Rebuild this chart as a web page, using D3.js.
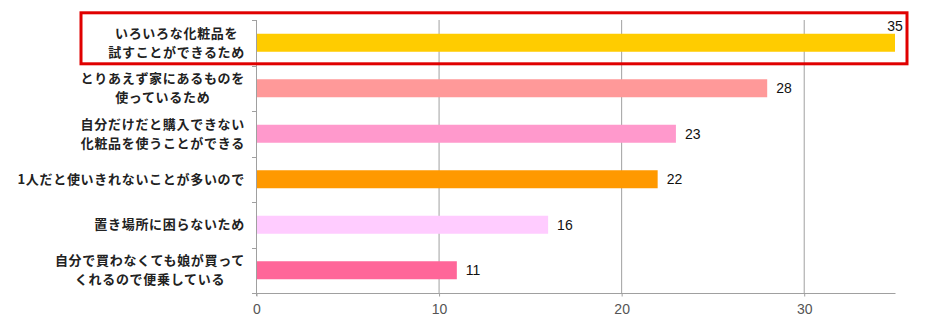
<!DOCTYPE html>
<html><head><meta charset="utf-8">
<script src="https://cdn.jsdelivr.net/npm/d3@7"></script>
<style>body{margin:0;background:#fff}</style>
</head><body>
<svg id="c" width="925" height="330"></svg>
<script>
const categories = [
  ["いろいろな化粧品を","試すことができるため"],
  ["とりあえず家にあるものを","使っているため"],
  ["自分だけだと購入できない","化粧品を使うことができる"],
  ["1人だと使いきれないことが多いので"],
  ["置き場所に困らないため"],
  ["自分で買わなくても娘が買って","くれるので便乗している"]
];
const values = [35, 28, 23, 22, 16, 11];
const colors = ["#ffcc00","#ff9999","#ff99cc","#ff9900","#ffccff","#ff6699"];
const xTicks = [0, 10, 20, 30];

const svg = d3.select("#c");
const L = 256, R = 895, T = 20, B = 293;
const x = d3.scaleLinear().domain([0, 35]).range([L, R]);
const yb = d3.scaleBand().domain(d3.range(categories.length)).range([T, B]);

// gridlines
svg.append("g").selectAll("line").data(xTicks.filter(d => d > 0)).join("line")
  .attr("x1", d => x(d) + 0.5).attr("x2", d => x(d) + 0.5)
  .attr("y1", T).attr("y2", B).attr("stroke", "#a0a0a0").attr("stroke-width", 1);

// bars
svg.append("g").selectAll("rect").data(values).join("rect")
  .attr("x", x(0) + 1).attr("y", (d, i) => yb(i) + yb.bandwidth() / 2 - 9)
  .attr("width", d => x(d) - x(0) - 1).attr("height", 18)
  .attr("fill", (d, i) => colors[i]);

// y axis line and ticks
const ya = svg.append("g").attr("stroke", "#a0a0a0").attr("stroke-width", 1);
ya.append("line").attr("x1", L + 0.5).attr("x2", L + 0.5).attr("y1", T).attr("y2", B + 3);
ya.selectAll("line.t").data(d3.range(categories.length + 1)).join("line").attr("class", "t")
  .attr("x1", L - 4).attr("x2", L)
  .attr("y1", i => Math.round(T + i * yb.step()) + 0.5).attr("y2", i => Math.round(T + i * yb.step()) + 0.5);

// x axis
const xa = d3.axisBottom(x).tickValues(xTicks).tickSize(3).tickPadding(8).tickFormat(d3.format("d"));
const xg = svg.append("g").attr("transform", `translate(0.5,${B + 0.5})`).call(xa);
xg.select(".domain").attr("stroke", "#a0a0a0").attr("d", `M${L},0H${R}`);
xg.selectAll(".tick line").attr("stroke", "#a0a0a0");
xg.selectAll(".tick text").attr("fill", "#555").style("font-family", "'Liberation Sans Narrow','Liberation Sans',sans-serif").style("font-size", "14px").attr("dy", "0.71em");

// category labels (block centered, right aligned)
const lg = svg.append("g").style("font-family", "'Noto Sans CJK JP',sans-serif").style("font-size", "13px").style("font-weight", "bold").style("letter-spacing", "0.7px").attr("fill", "#222");
categories.forEach((lines, i) => {
  const cy = yb(i) + yb.bandwidth() / 2;
  const g = lg.append("g");
  const texts = lines.map((t, k) => g.append("text").text(t)
    .attr("y", cy + (k - (lines.length - 1) / 2) * 19).attr("dy", "0.36em").attr("text-anchor", "middle"));
  const w = d3.max(texts, t => t.node().getComputedTextLength());
  texts.forEach(t => t.attr("x", 245 - w / 2));
});

// value labels
const vg = svg.append("g").style("font-family", "'Liberation Sans Narrow','Liberation Sans',sans-serif").style("font-size", "14px").attr("fill", "#111");
values.forEach((v, i) => {
  const cy = yb(i) + yb.bandwidth() / 2;
  if (x(v) + 30 > 925 - 10) {
    vg.append("text").text(v).attr("x", x(v)).attr("y", cy - 12).attr("text-anchor", "middle");
  } else {
    vg.append("text").text(v).attr("x", x(v) + 9).attr("y", cy).attr("dy", "0.36em");
  }
});

// highlight box
svg.append("rect").attr("x", 81).attr("y", 12.8).attr("width", 826).attr("height", 51)
  .attr("fill", "none").attr("stroke", "#e00000").attr("stroke-width", 3);
</script>
</body></html>
